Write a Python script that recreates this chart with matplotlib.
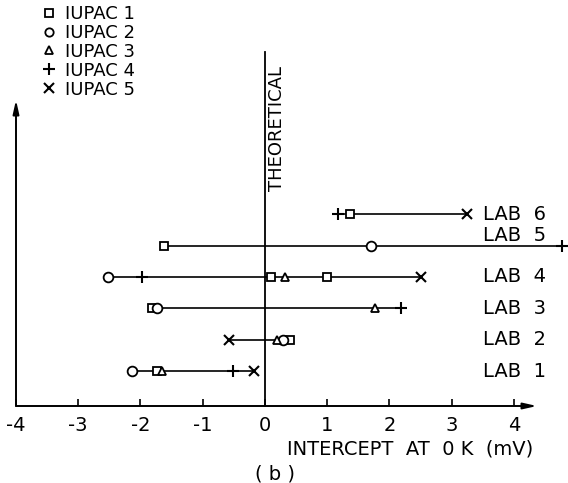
import matplotlib
matplotlib.use("Agg")
import matplotlib.pyplot as plt
from matplotlib.lines import Line2D

# ---- data ----
lab_names = ["LAB 1", "LAB 2", "LAB 3", "LAB 4", "LAB 5", "LAB 6"]
lab_pos = [1, 2, 3, 4, 5, 6]

iupac1_lab = [1, 2, 3, 4, 4, 5, 6]
iupac1_val = [-1.73, 0.40, -1.81, 0.10, 1.00, -1.63, 1.36]
iupac2_lab = [1, 2, 3, 4, 5]
iupac2_val = [-2.13, 0.29, -1.74, -2.53, 1.71]
iupac3_lab = [1, 2, 3, 4]
iupac3_val = [-1.65, 0.19, 1.76, 0.32]
iupac4_lab = [1, 3, 4, 5, 6]
iupac4_val = [-0.51, 2.19, -1.98, 4.77, 1.17]
iupac5_lab = [1, 2, 4, 6]
iupac5_val = [-0.18, -0.58, 2.51, 3.25]

series_names = ["IUPAC 1", "IUPAC 2", "IUPAC 3", "IUPAC 4", "IUPAC 5"]
x_ticks = [-4, -3, -2, -1, 0, 1, 2, 3, 4]
x_ticklabels = ["-4", "-3", "-2", "-1", "0", "1", "2", "3", "4"]

FS = 14
plt.rcParams['font.family'] = ['DejaVu Sans']

W, H = 568, 483
fig = plt.figure(figsize=(W / 100, H / 100), dpi=100)
left_px, right_px, top_px, bot_px = 16, 537, 100, 406
ax = fig.add_axes([left_px / W, (H - bot_px) / H, (right_px - left_px) / W, (bot_px - top_px) / H])
ax.set_xlim(-4, 4.37)
ax.set_ylim(-0.11, (402.5 - top_px) / 31.4)

for s in ["top", "right", "left", "bottom"]:
    ax.spines[s].set_visible(False)

# axis arrows
ax.annotate("", xy=(1, 0), xytext=(0, 0), xycoords="axes fraction",
            arrowprops=dict(arrowstyle="-|>,head_length=0.8,head_width=0.18", lw=1.4, color="black",
                            shrinkA=0, shrinkB=0))
ax.annotate("", xy=(0, 1), xytext=(0, 0), xycoords="axes fraction",
            arrowprops=dict(arrowstyle="-|>,head_length=0.8,head_width=0.18", lw=1.4, color="black",
                            shrinkA=0, shrinkB=0))

ax.set_xticks(x_ticks)
ax.set_xticklabels(x_ticklabels, fontsize=FS)
ax.tick_params(axis="x", direction="in", length=5, width=1.2, pad=7)
ax.set_yticks([])

# range lines for each lab
all_series = [(iupac1_lab, iupac1_val), (iupac2_lab, iupac2_val), (iupac3_lab, iupac3_val),
              (iupac4_lab, iupac4_val), (iupac5_lab, iupac5_val)]
for lab in lab_pos:
    vals = [v for labs, vs in all_series for l, v in zip(labs, vs) if l == lab]
    ax.plot([min(vals), max(vals)], [lab, lab], color="black", lw=1.2, clip_on=False, zorder=2)

mk = dict(color="black", markerfacecolor="white", markeredgecolor="black", linestyle="none")
ax.plot(iupac1_val, iupac1_lab, marker="s", markersize=6, markeredgewidth=1.3, clip_on=False, zorder=3, **mk)
ax.plot(iupac2_val, iupac2_lab, marker="o", markersize=7, markeredgewidth=1.3, clip_on=False, zorder=3, **mk)
ax.plot(iupac3_val, iupac3_lab, marker="^", markersize=6, markeredgewidth=1.3, clip_on=False, zorder=3, **mk)
ax.plot(iupac4_val, iupac4_lab, marker="+", markersize=8, markeredgewidth=1.5, clip_on=False, zorder=3, **mk)
ax.plot(iupac5_val, iupac5_lab, marker="x", markersize=7, markeredgewidth=1.5, clip_on=False, zorder=3, **mk)

# theoretical line
ax.plot([0, 0], [-0.11, 11.16], color="black", lw=1.3, clip_on=False, zorder=1)
ax.text(0.2, 6.75, "THEORETICAL", rotation=90, ha="center", va="bottom", fontsize=FS - 1)

# lab labels
for lab, name in zip(lab_pos, lab_names):
    yy = lab + 0.33 if lab == 5 else lab
    ax.text(3.5, yy, name.replace(" ", "  "), ha="left", va="center", fontsize=FS)

# x label and caption
ax.text(4.31, -1.48, "INTERCEPT  AT  0 K  (mV)", ha="right", va="center", fontsize=FS)
ax.text(0.16, -2.28, "( b )", ha="center", va="center", fontsize=FS)

# legend
handles = [
    Line2D([], [], marker="s", markersize=6, markeredgewidth=1.3, **mk),
    Line2D([], [], marker="o", markersize=6, markeredgewidth=1.3, **mk),
    Line2D([], [], marker="^", markersize=6, markeredgewidth=1.3, **mk),
    Line2D([], [], marker="+", markersize=8, markeredgewidth=1.5, **mk),
    Line2D([], [], marker="x", markersize=7, markeredgewidth=1.5, **mk),
]
fig.legend(handles, series_names, loc="upper left", bbox_to_anchor=(40 / W, 1 - 5 / H),
           frameon=False, fontsize=13, handlelength=1.0, handletextpad=0.4, labelspacing=0.05,
           borderpad=0, borderaxespad=0)

fig.savefig("out.png", dpi=100)
